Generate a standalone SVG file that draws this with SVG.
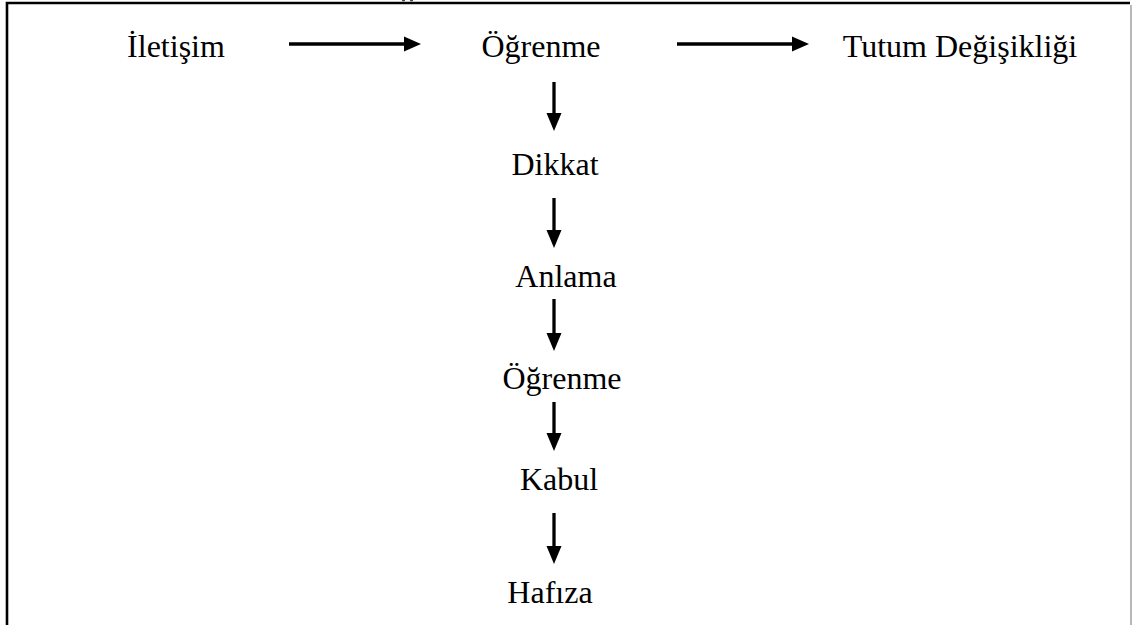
<svg xmlns="http://www.w3.org/2000/svg" width="1132" height="625" viewBox="0 0 1132 625">
  <defs>
    <style>
      .lbl { font-family: "Liberation Serif", "Times New Roman", serif; font-size: 32px; fill: #000; text-anchor: middle; }
      .edge { stroke: #000; stroke-width: 3.3; fill: none; }
      .tip { fill: #000; }
    </style>
  </defs>
  <rect width="1132" height="625" fill="#fff"/>

  <!-- frame -->
  <g id="frame">
    <path d="M7,625 V3 H1130" stroke="#000" stroke-width="2.6" fill="none"/>
    <path d="M1131,5 V625" stroke="#888" stroke-width="1.2" fill="none"/>
    <rect x="402" y="0" width="3" height="1.2" fill="#444"/>
    <rect x="410" y="0" width="3" height="1.2" fill="#444"/>
  </g>

  <!-- connectors: shaft + solid triangular head -->
  <g id="connectors">
    <path class="edge" d="M289,44 H406"/>
    <path class="tip" d="M404,36.5 L421,44 L404,51.5 Z"/>
    <path class="edge" d="M677,44 H794"/>
    <path class="tip" d="M792,36.5 L809,44 L792,51.5 Z"/>

    <path class="edge" d="M554,82 V115"/>
    <path class="tip" d="M546.5,113 L554,131 L561.5,113 Z"/>
    <path class="edge" d="M554,198 V232"/>
    <path class="tip" d="M546.5,230 L554,248 L561.5,230 Z"/>
    <path class="edge" d="M554,299 V335"/>
    <path class="tip" d="M546.5,333 L554,351 L561.5,333 Z"/>
    <path class="edge" d="M554,402 V435"/>
    <path class="tip" d="M546.5,433 L554,451 L561.5,433 Z"/>
    <path class="edge" d="M554,513 V548"/>
    <path class="tip" d="M546.5,546 L554,564 L561.5,546 Z"/>
  </g>

  <!-- nodes -->
  <g id="iletisim"><text class="lbl" x="176" y="57">İletişim</text></g>
  <g id="ogrenme-top"><text class="lbl" x="541" y="57">Öğrenme</text></g>
  <g id="tutum"><text class="lbl" x="960" y="57">Tutum Değişikliği</text></g>
  <g id="dikkat"><text class="lbl" x="555" y="175">Dikkat</text></g>
  <g id="anlama"><text class="lbl" x="566" y="287">Anlama</text></g>
  <g id="ogrenme"><text class="lbl" x="562" y="389">Öğrenme</text></g>
  <g id="kabul"><text class="lbl" x="559" y="490">Kabul</text></g>
  <g id="hafiza"><text class="lbl" x="550" y="603">Hafıza</text></g>
</svg>
